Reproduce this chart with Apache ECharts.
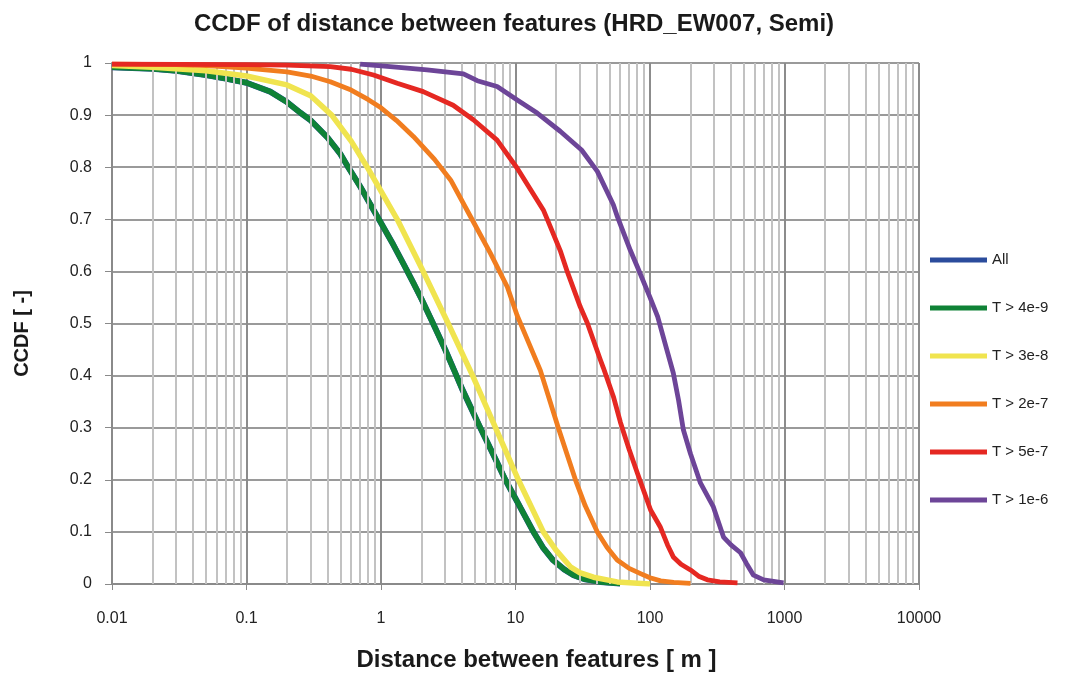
<!DOCTYPE html>
<html>
<head>
<meta charset="utf-8">
<script src="https://cdn.jsdelivr.net/npm/echarts@6/dist/echarts.min.js"></script>
<style>html,body{margin:0;padding:0;background:#fff}#c{width:1065px;height:675px}</style>
</head>
<body>
<div id="c"></div>
<script>
const xTickLabels = ['0.01','0.1','1','10','100','1000','10000'];
const yTickLabels = ['0','0.1','0.2','0.3','0.4','0.5','0.6','0.7','0.8','0.9','1'];
const seriesNames = ['All','T > 4e-9','T > 3e-8','T > 2e-7','T > 5e-7','T > 1e-6'];

const allData = [[0.01,0.992],[0.02,0.989],[0.03,0.985],[0.05,0.977],[0.07,0.97],[0.1,0.962],[0.15,0.945],[0.2,0.925],[0.25,0.905],[0.3,0.89],[0.4,0.857],[0.5,0.825],[0.57,0.8],[0.7,0.763],[0.88,0.718],[1.0,0.693],[1.23,0.652],[1.5,0.61],[1.74,0.578],[2.0,0.547],[2.44,0.5],[3.0,0.45],[3.5,0.41],[4.0,0.375],[5.47,0.3],[7.0,0.243],[8.4,0.2],[10,0.164],[13.6,0.1],[16,0.07],[19,0.046],[23,0.028],[27,0.017],[33,0.009],[43,0.004],[60,0.001]];
const t4e9 = [[0.01,0.992],[0.02,0.989],[0.03,0.985],[0.05,0.977],[0.07,0.97],[0.1,0.962],[0.15,0.945],[0.2,0.925],[0.25,0.905],[0.3,0.89],[0.4,0.857],[0.5,0.825],[0.57,0.8],[0.7,0.763],[0.88,0.718],[1.0,0.693],[1.23,0.652],[1.5,0.61],[1.74,0.578],[2.0,0.547],[2.44,0.5],[3.0,0.45],[3.5,0.41],[4.0,0.375],[5.47,0.3],[7.0,0.243],[8.4,0.2],[10,0.164],[13.6,0.1],[16,0.07],[19,0.046],[23,0.028],[27,0.017],[33,0.009],[43,0.004],[60,0.001]];
const t3e8 = [[0.01,0.995],[0.02,0.992],[0.05,0.985],[0.1,0.975],[0.2,0.958],[0.3,0.937],[0.43,0.9],[0.6,0.85],[0.79,0.8],[1.0,0.754],[1.32,0.7],[2.06,0.6],[3.16,0.5],[4.8,0.4],[7.1,0.3],[10.5,0.2],[16.1,0.1],[20,0.065],[25.6,0.033],[30,0.022],[38,0.013],[57,0.004],[100,0.0]];
const t2e7 = [[0.01,0.998],[0.03,0.997],[0.05,0.995],[0.1,0.99],[0.2,0.983],[0.3,0.975],[0.42,0.964],[0.6,0.948],[0.8,0.93],[1.0,0.914],[1.3,0.89],[1.74,0.859],[2.5,0.815],[3.3,0.775],[4.7,0.702],[6.5,0.635],[8.7,0.57],[10.3,0.515],[15.3,0.41],[20.8,0.3],[27.9,0.2],[33,0.15],[40.6,0.1],[48,0.07],[57,0.046],[70,0.03],[85,0.02],[100,0.012],[120,0.006],[150,0.003],[200,0.001]];
const t5e7 = [[0.01,0.998],[0.1,0.997],[0.2,0.996],[0.42,0.993],[0.6,0.988],[0.88,0.977],[1.32,0.961],[2.06,0.945],[3.44,0.919],[4.86,0.891],[7.3,0.852],[10.3,0.798],[16.1,0.718],[17.3,0.699],[21.5,0.64],[24.3,0.599],[30.3,0.532],[34.2,0.501],[42.8,0.43],[45,0.415],[53.4,0.36],[60.3,0.31],[70,0.258],[80.5,0.213],[101,0.142],[119,0.11],[135,0.075],[149,0.052],[170,0.038],[200,0.027],[230,0.015],[267,0.008],[330,0.004],[447,0.002]];
const t1e6 = [[0.7,0.998],[1.17,0.993],[2.2,0.987],[4.1,0.979],[5.2,0.966],[7.3,0.955],[10.3,0.929],[14.5,0.904],[21.5,0.869],[31,0.833],[40.6,0.792],[53.4,0.728],[57.2,0.705],[71.5,0.64],[80.5,0.609],[100,0.55],[114,0.513],[130,0.46],[149,0.405],[163,0.353],[177,0.296],[200,0.25],[237,0.194],[296,0.148],[352,0.09],[400,0.075],[471,0.06],[520,0.04],[588,0.017],[700,0.008],[984,0.002]];

const seriesData = [allData, t4e9, t3e8, t2e7, t5e7, t1e6];
const colors = ['#2b4c9c','#0f8236','#f0e44f','#f17d1f','#e52822','#6d4598'];
const widths = [6, 5.5, 5.5, 4.8, 4.8, 4.8];

// minor vertical gridlines at 2..9 x each decade
const minorXs = [];
for (let d = -2; d < 4; d++) for (let m = 2; m <= 9; m++) minorXs.push(+(m * Math.pow(10, d)).toPrecision(3));

const chart = echarts.init(document.getElementById('c'), null, {renderer: 'canvas'});
const series = seriesNames.map((n, i) => ({
  name: n, type: 'line', data: seriesData[i], showSymbol: false, symbol: 'none',
  lineStyle: {color: colors[i], width: widths[i], cap: 'butt', join: 'round'},
  itemStyle: {color: colors[i]}, z: 3 + i, animation: false
}));
series.unshift({
  name: '_grid', type: 'line', data: [], silent: true, z: 1, animation: false,
  markLine: {
    silent: true, symbol: 'none', animation: false,
    label: {show: false},
    lineStyle: {color: '#c2c2c2', width: 2, type: 'solid'},
    emphasis: {disabled: true},
    data: minorXs.map(v => ({xAxis: v}))
  }
});

chart.setOption({
  backgroundColor: '#fff',
  animation: false,
  textStyle: {fontFamily: 'Liberation Sans, Arial, sans-serif'},
  title: {
    text: 'CCDF of distance between features (HRD_EW007, Semi)',
    left: 509, top: 7, textAlign: 'center',
    textStyle: {fontSize: 24, fontWeight: 'bold', color: '#1a1a1a', fontFamily: 'Liberation Sans, Arial, sans-serif'}
  },
  legend: {
    orient: 'vertical', left: 925, top: 247,
    data: seriesNames, icon: 'rect', itemWidth: 57, itemHeight: 5, itemGap: 32,
    textStyle: {fontSize: 15, color: '#222', lineHeight: 16},
    selectedMode: false
  },
  grid: {left: 112, right: 146, top: 63, bottom: 91, containLabel: false, outerBoundsMode: 'none'},
  xAxis: {
    type: 'log', logBase: 10, min: 0.01, max: 10000,
    name: 'Distance between features [ m ]', nameLocation: 'middle', nameGap: 64,
    nameTextStyle: {fontSize: 24, fontWeight: 'bold', color: '#1a1a1a', padding: [0,0,0,42]},
    axisLine: {show: true, onZero: false, lineStyle: {color: '#8a8a8a', width: 2}},
    axisTick: {show: true, inside: false, length: 6, lineStyle: {color: '#8a8a8a', width: 1}},
    axisLabel: {fontSize: 16, color: '#222', margin: 27,
      formatter: v => xTickLabels[Math.round(Math.log10(v)) + 2]},
    splitLine: {show: true, lineStyle: {color: '#8c8c8c', width: 2}},
    minorTick: {show: false}, minorSplitLine: {show: false}
  },
  yAxis: {
    type: 'value', min: 0, max: 1, interval: 0.1,
    name: 'CCDF [ -]', nameLocation: 'middle', nameGap: 80, nameRotate: 90,
    nameTextStyle: {fontSize: 20, fontWeight: 'bold', color: '#1a1a1a', padding: [0,20,0,0]},
    axisLine: {show: true, lineStyle: {color: '#8a8a8a', width: 2}},
    axisTick: {show: true, inside: false, length: 7, lineStyle: {color: '#8a8a8a', width: 1}},
    axisLabel: {fontSize: 16, color: '#222', margin: 20,
      formatter: v => yTickLabels[Math.round(v * 10)]},
    splitLine: {show: true, lineStyle: {color: '#9a9a9a', width: 2}}
  },
  series: series
});
</script>
</body>
</html>
